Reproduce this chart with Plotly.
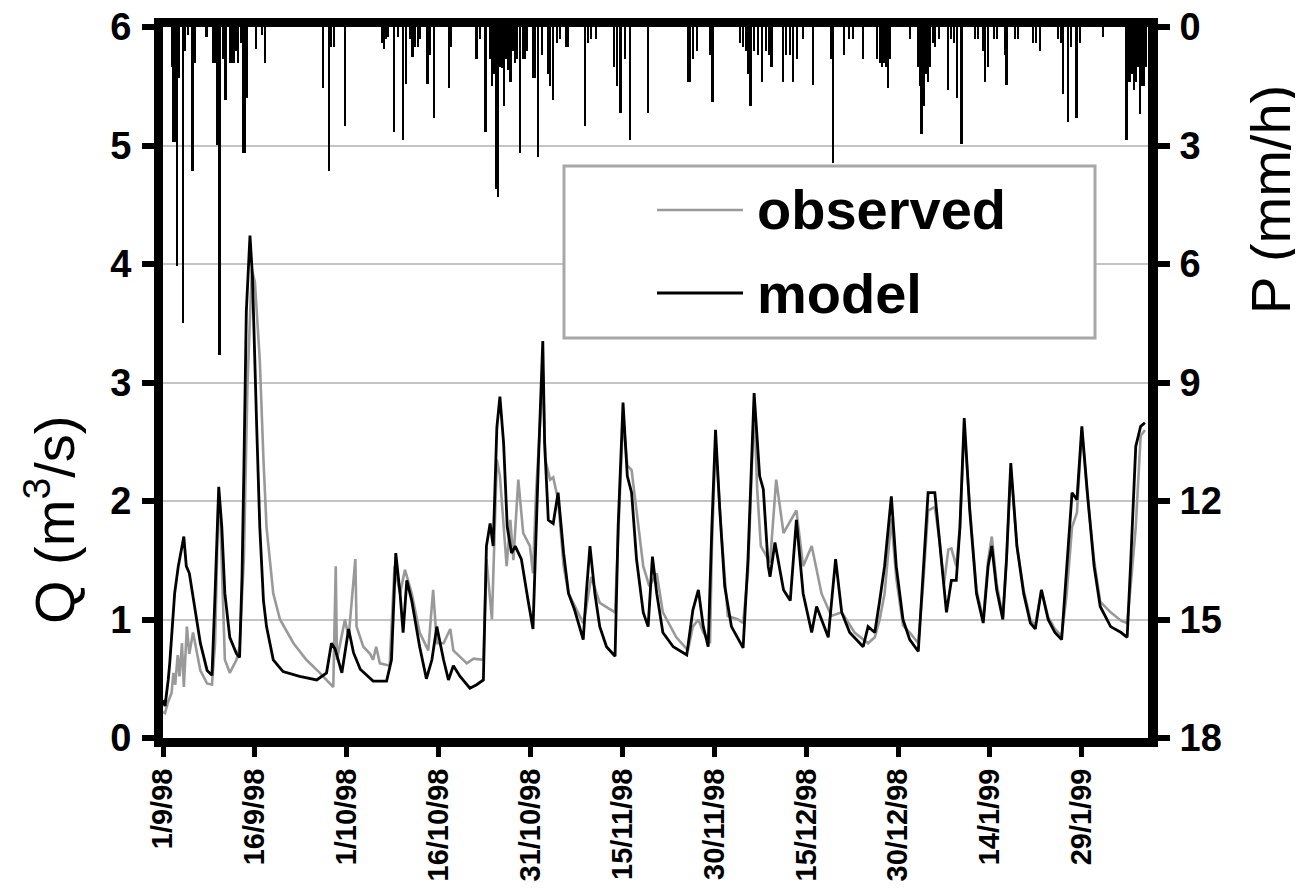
import pandas as pd
import plotly.graph_objects as go

START = pd.Timestamp("1998-09-01")

# ---------------- data (days since 1 Sep 1998) ----------------
mod_day = [0.0, 0.33, 0.85, 1.1, 1.9, 2.5, 3.4, 3.8, 4.3, 5.0, 6.1, 7.2, 8.0, 8.5, 9.1, 9.6, 10.1, 10.9, 12.0, 12.5,
           12.9, 13.2, 13.6, 14.2, 14.6, 15.3, 15.8, 16.4, 16.9, 18.0, 19.6, 22.3, 25.1, 26.7, 27.5, 28.1, 29.2, 30.3,
           31.1, 32.2, 34.3, 36.5, 37.3, 38.0, 38.7, 39.2, 39.8, 40.6, 41.9, 43.0, 43.9, 44.7, 45.8, 46.6, 47.4, 48.5,
           50.1, 51.2, 52.3, 52.8, 53.4, 53.9, 54.5, 55.0, 55.6, 56.2, 56.9, 57.5, 58.5, 59.6, 60.4, 61.3, 61.8, 62.0,
           62.3, 62.9, 63.7, 64.5, 65.4, 66.2, 67.2, 68.6, 69.1, 69.7, 70.5, 71.3, 72.4, 73.8, 74.3, 75.1, 75.8, 76.5,
           77.3, 78.4, 79.2, 79.9, 80.6, 81.6, 83.3, 85.5, 86.5, 87.4, 88.2, 89.0, 89.6, 90.2, 90.9, 91.7, 92.8, 94.7,
           95.5, 96.5, 97.4, 98.0, 98.8, 99.1, 99.9, 101.3, 102.4, 103.4, 104.5, 105.9, 106.7, 107.5, 108.6, 109.8,
           110.8, 112.1, 114.3, 115.1, 116.2, 117.0, 117.8, 118.9, 119.7, 120.8, 121.9, 123.3, 124.1, 124.9, 126.0,
           126.8, 127.9, 128.7, 129.5, 130.1, 130.8, 131.7, 132.8, 133.9, 134.7, 135.3, 136.1, 137.1, 137.7, 138.4,
           139.4, 140.5, 141.6, 142.4, 143.4, 144.5, 145.6, 146.7, 147.5, 148.4, 149.2, 150.0, 150.9, 152.0, 153.0,
           154.7, 156.4, 157.4, 158.0, 158.8, 159.6, 160.3]
mod_q = [0.32, 0.27, 0.49, 0.63, 1.22, 1.45, 1.70, 1.45, 1.39, 1.16, 0.80, 0.57, 0.53, 1.22, 2.12, 1.78, 1.22, 0.85, 0.71, 0.68,
         1.36, 2.26, 3.60, 4.24, 3.90, 2.62, 1.78, 1.16, 0.94, 0.66, 0.56, 0.52, 0.49, 0.55, 0.80, 0.75, 0.55, 0.92,
         0.72, 0.58, 0.48, 0.48, 0.66, 1.56, 1.22, 0.89, 1.33, 1.16, 0.77, 0.50, 0.66, 0.94, 0.66, 0.49, 0.61, 0.52,
         0.42, 0.45, 0.49, 1.62, 1.81, 1.62, 2.62, 2.88, 2.49, 1.78, 1.56, 1.62, 1.51, 1.16, 0.92, 2.35, 3.20, 3.35,
         2.49, 1.84, 1.81, 2.07, 1.56, 1.22, 1.08, 0.83, 1.22, 1.62, 1.22, 0.94, 0.77, 0.69, 1.78, 2.83, 2.21, 2.07,
         1.51, 1.06, 0.94, 1.53, 1.22, 0.89, 0.77, 0.70, 1.08, 1.25, 0.94, 0.77, 1.78, 2.60, 1.92, 1.28, 0.94, 0.76,
         1.51, 2.91, 2.21, 2.10, 1.45, 1.36, 1.65, 1.25, 1.16, 1.84, 1.22, 0.89, 1.11, 1.00, 0.85, 1.51,
         1.06, 0.89, 0.77, 0.94, 0.89, 1.16, 1.45, 2.04, 1.45, 1.00, 0.83, 0.73, 1.45, 2.07, 2.07,
         1.65, 1.06, 1.33, 1.33, 1.78, 2.70, 1.92, 1.22, 0.97, 1.45, 1.62, 1.25, 1.00, 1.51, 2.32,
         1.62, 1.22, 0.97, 0.92, 1.25, 1.00, 0.89, 0.83, 1.39, 2.07, 2.01, 2.63, 2.07, 1.45, 1.11,
         0.94, 0.89, 0.85, 1.51, 2.46, 2.63, 2.66]

obs_day = [0.0, 0.33, 0.8, 1.4, 1.7, 2.0, 2.4, 2.7, 3.1, 3.4, 3.9, 4.3, 4.9, 6.1, 7.2, 8.0, 8.5, 9.0, 9.3, 9.9, 10.1,
           10.9, 12.0, 12.5, 13.2, 13.8, 14.5, 15.0, 15.8, 16.4, 16.9, 18.0, 19.1, 21.3, 23.4, 25.6, 27.2, 27.8, 28.2,
           28.4, 29.7, 30.3, 31.4, 31.6, 32.7, 33.8, 34.3, 34.8, 35.4, 37.0, 37.8, 38.7, 39.5, 40.6, 41.9, 43.3, 44.1,
           44.7, 45.8, 46.9, 47.4, 49.6, 50.7, 52.3, 52.8, 53.7, 54.5, 55.0, 56.1, 56.7, 57.2, 58.0, 58.8, 59.9, 60.4,
           60.9, 61.5, 62.0, 62.4, 63.2, 63.7, 64.5, 65.4, 66.2, 68.6, 69.1, 69.9, 71.3, 73.8, 74.3, 75.1, 75.8, 76.5,
           78.4, 79.4, 80.6, 81.6, 83.8, 85.7, 86.5, 87.4, 88.2, 89.3, 89.6, 90.2, 91.2, 92.2, 93.9, 94.7, 95.5, 96.5,
           97.0, 97.6, 99.1, 100.1, 101.3, 103.4, 104.5, 105.9, 107.5, 109.1, 110.8, 112.9, 115.1, 116.2, 117.0,
           117.8, 118.9, 119.7, 120.8, 121.9, 123.3, 124.1, 124.9, 126.0, 126.8, 127.5, 128.2, 128.7, 129.5, 130.1,
           130.8, 131.7, 132.8, 133.9, 134.7, 135.3, 136.1, 137.1, 137.7, 138.4, 139.4, 140.5, 141.6, 142.4, 143.4,
           144.5, 145.6, 146.7, 147.5, 148.4, 149.2, 150.0, 150.9, 152.0, 153.0, 154.7, 156.4, 157.4, 158.0, 158.8,
           159.6, 160.3]
obs_q = [0.22, 0.21, 0.30, 0.38, 0.55, 0.45, 0.70, 0.52, 0.80, 0.43, 0.94, 0.71, 0.89, 0.57, 0.46, 0.45, 0.80, 1.92, 1.95, 1.10, 0.66,
         0.55, 0.66, 0.77, 1.51, 3.00, 3.95, 3.85, 3.19, 2.35, 1.78, 1.22, 1.00, 0.80, 0.66, 0.55, 0.46, 0.43, 1.45,
         0.66, 1.00, 0.85, 1.51, 0.94, 0.77, 0.71, 0.66, 0.77, 0.63, 0.61, 1.45, 1.22, 1.42, 1.22, 0.89, 0.74, 1.25,
         0.80, 0.80, 0.92, 0.74, 0.63, 0.67, 0.66, 1.51, 1.00, 2.35, 2.21, 1.45, 1.84, 1.50, 2.18, 1.73, 1.62, 1.39,
         2.07, 2.60, 3.10, 2.35, 2.18, 2.20, 2.01, 1.45, 1.22, 0.97, 1.10, 1.36, 1.14, 1.06, 1.70, 2.70, 2.30, 2.26,
         1.45, 1.28, 1.39, 1.06, 0.85, 0.74, 0.94, 1.00, 0.89, 0.80, 1.60, 2.50, 1.70, 1.03, 1.00, 0.97, 1.40, 2.80,
         2.10, 1.62, 1.48, 2.18, 1.73, 1.92, 1.45, 1.62, 1.22, 1.03, 1.06, 0.89, 0.80, 0.85, 1.00,
         1.22, 1.85, 1.35, 0.95, 0.89, 0.80, 1.30, 1.92, 1.95, 1.65, 1.30, 1.59, 1.60, 1.45, 1.78,
         2.62, 1.95, 1.25, 1.00, 1.50, 1.70, 1.30, 1.02, 1.50, 2.28, 1.62, 1.25, 1.00, 0.95, 1.25,
         1.02, 0.92, 0.86, 1.20, 1.78, 1.90, 2.60, 2.05, 1.50, 1.15, 1.06, 0.99, 0.97, 1.30, 1.78,
         2.55, 2.60]

rain_day = [1.47, 1.71, 1.96, 2.24, 2.61, 3.22, 3.59, 4.08, 4.78, 5.22, 7.13, 8.16, 8.41, 8.65, 8.89, 9.19, 9.79, 10.23,
            10.93, 11.26, 11.59, 11.91, 12.24, 12.84, 13.06, 13.38, 13.71, 15.18, 16.16, 16.65, 26.11, 27.09, 27.42,
            27.91, 29.70, 35.74, 36.07, 36.40, 36.72, 37.70, 38.35, 39.17, 39.66, 40.31, 40.75, 41.13, 41.62, 41.94,
            43.20, 43.58, 44.23, 46.68, 47.00, 51.20, 51.74, 52.67, 53.37, 53.70, 54.02, 54.46, 54.68, 55.00, 55.33,
            55.65, 55.98, 56.31, 56.75, 57.12, 57.45, 57.78, 58.27, 58.76, 59.08, 59.41, 60.39, 60.71, 61.20, 61.86,
            62.84, 63.16, 63.65, 64.30, 64.79, 65.77, 66.10, 68.87, 69.36, 69.85, 70.67, 73.61, 74.10, 74.70, 75.40,
            76.22, 79.16, 85.69, 86.01, 86.50, 87.15, 89.28, 89.71, 94.17, 94.66, 95.15, 95.48, 95.88, 96.46, 97.11,
            97.76, 98.41, 98.90, 99.34, 101.19, 101.68, 102.33, 102.82, 103.47, 104.45, 106.09, 109.02, 109.40,
            111.14, 111.96, 112.61, 114.25, 116.53, 117.02, 117.35, 117.67, 118.00, 118.33, 118.65, 121.92, 123.22,
            123.55, 123.82, 124.20, 124.53, 124.86, 125.18, 125.67, 126.00, 126.65, 128.12, 128.61, 129.10, 129.59,
            130.35, 132.52, 133.01, 133.83, 134.16, 134.65, 135.63, 136.12, 137.42, 137.70, 139.06, 139.55, 141.99,
            142.48, 143.13, 146.07, 146.56, 146.89, 147.70, 148.19, 149.13, 149.66, 153.42, 157.29, 157.50, 157.83,
            158.15, 158.48, 158.81, 159.13, 159.46, 159.79, 160.12, 160.44]
rain_mm = [1.0, 2.9, 2.9, 6.05, 1.3, 7.5, 0.6, 0.2, 3.65, 0.9, 0.25, 0.9, 0.9, 0.9, 2.98, 8.3, 0.8, 1.84,
           0.9, 0.9, 0.9, 0.6, 0.9, 0.4, 3.2, 3.2, 1.8, 0.55, 0.2, 0.9, 1.55, 3.65, 0.5,
           0.5, 2.5, 0.4, 0.55, 0.3, 0.25, 2.65, 0.25, 2.85, 1.45, 0.3, 0.75, 0.5, 0.5, 0.3,
           1.45, 0.7, 2.3, 1.55, 0.5, 0.8, 0.3, 2.65, 0.8, 1.5, 1.2, 4.1, 4.3, 1.0, 1.05,
           2.0, 0.8, 1.1, 1.4, 0.6, 0.9, 0.8, 3.2, 0.8, 0.8, 0.6, 1.3, 1.3, 3.3, 0.7,
           1.2, 1.5, 1.84, 0.4, 0.3, 0.5, 0.5, 2.5, 0.4, 0.3, 0.3, 1.0, 1.5, 2.18, 0.8,
           2.85, 2.18, 1.4, 1.4, 0.8, 0.6, 0.7, 1.9, 0.4, 0.5, 0.6, 1.2, 2.0, 0.6, 0.7,
           1.4, 0.6, 0.7, 1.0, 1.4, 0.7, 0.7, 1.4, 0.8, 0.3, 1.47, 0.8, 3.45,
           0.7, 0.3, 0.3, 0.8, 0.8, 0.9, 1.0, 0.9, 1.0, 1.55, 0.8, 0.3, 1.0,
           1.5, 2.7, 2.0, 1.2, 1.4, 1.0, 0.4, 0.5, 0.3, 1.6, 0.3, 0.4, 1.8,
           2.95, 0.3, 0.3, 0.6, 1.4, 1.0, 0.3, 0.3, 0.7, 1.47, 0.3, 0.3, 0.4,
           0.4, 0.6, 0.3, 0.4, 1.7, 2.4, 0.5, 2.3, 0.4, 0.25, 2.85, 1.4, 1.4,
           1.2, 1.6, 1.4, 1.0, 2.2, 1.5, 1.5, 1.0]

tick_days = [0, 15, 30, 45, 60, 75, 90, 105, 120, 135, 150]
tick_labels = ["1/9/98", "16/9/98", "1/10/98", "16/10/98", "31/10/98", "15/11/98",
               "30/11/98", "15/12/98", "30/12/98", "14/1/99", "29/1/99"]
END_DAY = 160.8


def to_dates(days):
    return START + pd.to_timedelta(days, unit="D")


FONT = "Liberation Sans, Arial, sans-serif"
OBS_COLOR = "#999999"

fig = go.Figure()

fig.add_trace(go.Bar(
    x=to_dates(rain_day), y=rain_mm, yaxis="y2", name="P",
    marker=dict(color="black", line=dict(width=0)),
    width=0.4 * 86400000, showlegend=False,
))
fig.add_trace(go.Scatter(
    x=to_dates(obs_day), y=obs_q, mode="lines", name="observed",
    line=dict(color=OBS_COLOR, width=2.6), showlegend=False,
))
fig.add_trace(go.Scatter(
    x=to_dates(mod_day), y=mod_q, mode="lines", name="model",
    line=dict(color="black", width=2.8), showlegend=False,
))

# target pixel geometry of the plot area (page coordinates)
OFF = 8                      # page body margin
L, R, T, B = 163, 1148, 27, 738
W, H = 1303 - OFF, 890 - OFF


def px(xp):
    return (xp - L) / (R - L)


def py(yp):
    return (B - yp) / (B - T)


fig.update_layout(
    width=W, height=H,
    margin=dict(l=L - OFF, r=W - (R - OFF), t=T - OFF, b=H - (B - OFF), pad=0, autoexpand=False),
    plot_bgcolor="white", paper_bgcolor="white",
    font=dict(family=FONT, color="black"),
    bargap=0,
    xaxis=dict(
        type="date", automargin=False, ticklabeloverflow="allow",
        range=[START, START + pd.Timedelta(days=END_DAY)],
        tickvals=to_dates(tick_days), ticktext=tick_labels,
        tickangle=-90,
        tickfont=dict(size=29, family=FONT, weight="bold"),
        ticks="outside", ticklen=10, tickwidth=5, tickcolor="black",
        ticklabelstandoff=0,
        showline=True, linecolor="black", linewidth=9, mirror=True,
        showgrid=False, zeroline=False,
    ),
    yaxis=dict(
        automargin=False, ticklabeloverflow="allow",
        range=[0, 6], tickvals=[0, 1, 2, 3, 4, 5, 6],
        tickfont=dict(size=38, family=FONT, weight="bold"),
        ticks="outside", ticklen=12, tickwidth=6, tickcolor="black",
        ticklabelstandoff=3,
        showline=True, linecolor="black", linewidth=9,
        showgrid=True, gridcolor="#c4c4c4", gridwidth=2,
        zeroline=False,
    ),
    yaxis2=dict(
        automargin=False, ticklabeloverflow="allow",
        range=[18, 0], tickvals=[0, 3, 6, 9, 12, 15, 18],
        overlaying="y", side="right",
        tickfont=dict(size=38, family=FONT, weight="bold"),
        ticks="outside", ticklen=12, tickwidth=6, tickcolor="black",
        ticklabelstandoff=2,
        showline=True, linecolor="black", linewidth=10,
        showgrid=False, zeroline=False,
    ),
    showlegend=False,
)

# axis titles
fig.add_annotation(
    x=px(50), y=py(520), xref="paper", yref="paper",
    text="Q (m<sup>3</sup>/s)", textangle=-90, showarrow=False,
    xanchor="center", yanchor="middle",
    font=dict(size=56, family=FONT, color="black"),
)
fig.add_annotation(
    x=px(1271), y=py(200), xref="paper", yref="paper",
    text="P (mm/h)", textangle=-90, showarrow=False,
    xanchor="center", yanchor="middle",
    font=dict(size=56, family=FONT, color="black"),
)

# legend box
fig.add_shape(type="rect", xref="paper", yref="paper",
              x0=px(564), x1=px(1095), y0=py(338), y1=py(166),
              line=dict(color="#a8a8a8", width=3), fillcolor="white", layer="above")
fig.add_shape(type="line", xref="paper", yref="paper",
              x0=px(657), x1=px(743), y0=py(210), y1=py(210),
              line=dict(color=OBS_COLOR, width=2.6), layer="above")
fig.add_shape(type="line", xref="paper", yref="paper",
              x0=px(657), x1=px(743), y0=py(293), y1=py(293),
              line=dict(color="black", width=2.8), layer="above")
fig.add_annotation(x=px(755), y=py(210), xref="paper", yref="paper", text="observed",
                   showarrow=False, xanchor="left", yanchor="middle",
                   font=dict(size=56, family=FONT, color="black", weight="bold"))
fig.add_annotation(x=px(755), y=py(293), xref="paper", yref="paper", text="model",
                   showarrow=False, xanchor="left", yanchor="middle",
                   font=dict(size=56, family=FONT, color="black", weight="bold"))

fig.write_html("out.html")
